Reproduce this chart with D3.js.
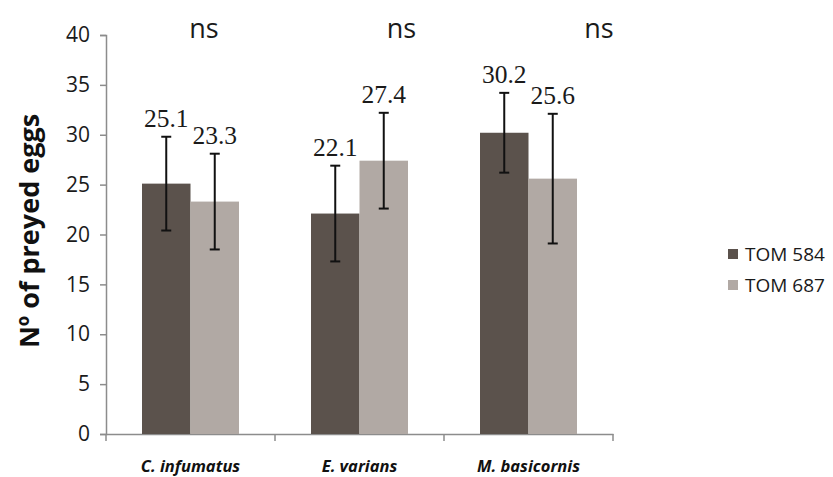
<!DOCTYPE html>
<html><head><meta charset="utf-8">
<script src="https://cdn.jsdelivr.net/npm/d3@7"></script>
<style>body{margin:0;background:#fff}</style>
</head><body>
<script>
var species=["C. infumatus","E. varians","M. basicornis"];
var series=["TOM 584","TOM 687"];
var tom584=[25.1,22.1,30.2];
var tom687=[23.3,27.4,25.6];
var err584=[4.7,4.8,4.0];
var err687=[4.8,4.8,6.5];
var sigs=["ns","ns","ns"];
var yticks=[0,5,10,15,20,25,30,35,40];
var colors=["#5b524c","#b1a9a4"];

var svg=d3.select("body").append("svg").attr("width",833).attr("height",477);

var x=d3.scaleBand().domain(species).range([106,613]);
var xin=d3.scaleBand().domain(series).range([36,x.bandwidth()-36]);
var y=d3.scaleLinear().domain([0,40]).range([434,35]);
var xs=d3.scalePoint().domain(species).range([204,599]);

// y axis
var ya=svg.append("g").attr("transform","translate(106,0)")
	.call(d3.axisLeft(y).tickValues(yticks).tickSize(6).tickPadding(10));
ya.attr("font-size",21).attr("font-family","Open Sans");
ya.selectAll("text").attr("font-size",21).attr("fill","#1a1a1a");
ya.selectAll("line,path").attr("stroke","#8c8c8c").attr("stroke-width",1.5);

// x axis
var xa=svg.append("g").attr("transform","translate(0,434)")
	.call(d3.axisBottom(x).tickSize(0).tickPadding(26));
xa.attr("font-size",null).attr("font-family",null);
xa.select("path").attr("stroke","#8c8c8c").attr("stroke-width",1.5);
xa.selectAll("text").style("font-family","Open Sans").style("font-size","16.5px").style("font-weight","bold").style("font-style","italic").attr("fill","#111");
xa.selectAll(".tick line").remove();
var bounds=species.map(function(d){return x(d)}).concat([x.range()[1]]);
svg.selectAll(".xt").data(bounds).enter().append("line")
	.attr("x1",function(d){return d}).attr("x2",function(d){return d})
	.attr("y1",434).attr("y2",441).attr("stroke","#8c8c8c").attr("stroke-width",1.5);

var rows=[];
species.forEach(function(s,i){
	rows.push({sp:s,ser:series[0],v:tom584[i],e:err584[i],c:colors[0]});
	rows.push({sp:s,ser:series[1],v:tom687[i],e:err687[i],c:colors[1]});
});
function cx(d){return x(d.sp)+xin(d.ser)+xin.bandwidth()/2;}

svg.selectAll(".bar").data(rows).enter().append("rect")
	.attr("x",function(d){return x(d.sp)+xin(d.ser)}).attr("width",xin.bandwidth())
	.attr("y",function(d){return y(d.v)}).attr("height",function(d){return y(0)-y(d.v)})
	.attr("fill",function(d){return d.c});

// error bars
var eb=svg.selectAll(".eb").data(rows).enter().append("g");
eb.append("line").attr("x1",cx).attr("x2",cx)
	.attr("y1",function(d){return y(d.v+d.e)}).attr("y2",function(d){return y(d.v-d.e)})
	.attr("stroke","#111").attr("stroke-width",2);
eb.append("line").attr("x1",function(d){return cx(d)-5}).attr("x2",function(d){return cx(d)+5})
	.attr("y1",function(d){return y(d.v+d.e)}).attr("y2",function(d){return y(d.v+d.e)})
	.attr("stroke","#111").attr("stroke-width",2);
eb.append("line").attr("x1",function(d){return cx(d)-5}).attr("x2",function(d){return cx(d)+5})
	.attr("y1",function(d){return y(d.v-d.e)}).attr("y2",function(d){return y(d.v-d.e)})
	.attr("stroke","#111").attr("stroke-width",2);

// value labels
svg.selectAll(".vl").data(rows).enter().append("text")
	.attr("x",cx).attr("y",function(d){return y(d.v+d.e)-10})
	.attr("text-anchor","middle").style("font-family","Liberation Serif").style("font-size","25.5px").attr("fill","#1a1a1a")
	.text(function(d){return d.v.toFixed(1)});

// significance
svg.selectAll(".ns").data(species).enter().append("text")
	.attr("x",function(d){return xs(d)}).attr("y",38).attr("text-anchor","middle")
	.style("font-family","Open Sans").style("font-size","27px").attr("fill","#1a1a1a")
	.text(function(d,i){return sigs[i]});

// y title
svg.append("text").attr("transform","translate(39,231) rotate(-90)").attr("text-anchor","middle")
	.style("font-family","Open Sans").style("font-weight","bold").style("font-size","27px").attr("fill","#111")
	.text("Nº of preyed eggs");

// legend
var lg=svg.selectAll(".lg").data(series).enter().append("g")
	.attr("transform",function(d,i){return "translate(728,"+(249+i*31)+")"});
lg.append("rect").attr("width",10).attr("height",10).attr("fill",function(d,i){return colors[i]});
lg.append("text").attr("x",17).attr("y",12).style("font-family","Open Sans").style("font-size","19px").attr("fill","#1a1a1a").text(function(d){return d});
</script>
</body></html>
